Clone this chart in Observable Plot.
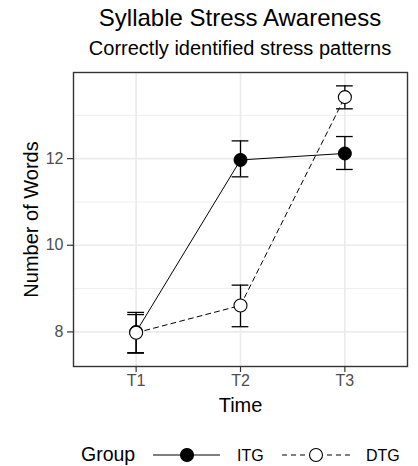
<!DOCTYPE html>
<html>
<head>
<meta charset="utf-8">
<script src="https://cdn.jsdelivr.net/npm/d3@7"></script>
<script src="https://cdn.jsdelivr.net/npm/@observablehq/plot@0.6"></script>
<style>
  html, body { margin: 0; padding: 0; background: white; }
  #wrap { position: relative; width: 418px; height: 466px; font-family: "Liberation Sans", Arial, Helvetica, sans-serif; overflow: hidden; background: white; }
  #title { position: absolute; left: 73px; width: 334px; top: 6px; text-align: center; font-size: 24px; line-height: 24px; color: #000; white-space: nowrap; }
  #subtitle { position: absolute; left: 73px; width: 334px; top: 38px; text-align: center; font-size: 20px; line-height: 20px; color: #000; white-space: nowrap; }
  #chart { position: absolute; left: 0; top: 60px; }
  #legend { position: absolute; left: 0; top: 420px; }
</style>
</head>
<body>
<div id="wrap">
  <div id="title"></div>
  <div id="subtitle"></div>
  <div id="chart"></div>
  <svg id="legend" width="418" height="46"></svg>
</div>
<script>
// ---- data ----
const titleText = "Syllable Stress Awareness";
const subtitleText = "Correctly identified stress patterns";
const xTitle = "Time";
const yTitle = "Number of Words";
const legendTitle = "Group";
const times = ["T1", "T2", "T3"];
const groups = ["ITG", "DTG"];
const itgMean = [8.00, 11.97, 12.12];
const itgLo   = [7.52, 11.58, 11.75];
const itgHi   = [8.45, 12.41, 12.51];
const dtgMean = [7.98, 8.61, 13.42];
const dtgLo   = [7.51, 8.12, 13.15];
const dtgHi   = [8.40, 9.08, 13.68];
const yMajor = [8, 10, 12];
const yMinor = [9, 11, 13];

// ---- build rows ----
const itg = times.map((t, i) => ({group: "ITG", t: i + 1, mean: itgMean[i], lo: itgLo[i], hi: itgHi[i]}));
const dtg = times.map((t, i) => ({group: "DTG", t: i + 1, mean: dtgMean[i], lo: dtgLo[i], hi: dtgHi[i]}));
const rows = itg.concat(dtg);

const yMin = d3.min(rows, d => d.lo), yMax = d3.max(rows, d => d.hi);
const yPad = (yMax - yMin) * 0.05;
const capHalf = 0.08;
const grid = "#ebebeb";

document.getElementById("title").textContent = titleText;
document.getElementById("subtitle").textContent = subtitleText;

const chart = Plot.plot({
  width: 418,
  height: 360,
  marginTop: 12,
  marginRight: 11,
  marginBottom: 54,
  marginLeft: 73,
  style: {fontFamily: '"Liberation Sans", Arial, Helvetica, sans-serif', fontSize: "16px", background: "white", overflow: "visible"},
  x: {type: "linear", domain: [0.4, times.length + 0.6]},
  y: {domain: [yMin - yPad, yMax + yPad]},
  marks: [
    Plot.gridY(yMinor, {stroke: grid, strokeOpacity: 1, strokeWidth: 0.9}),
    Plot.gridY(yMajor, {stroke: grid, strokeOpacity: 1, strokeWidth: 1.7}),
    Plot.gridX([1, 2, 3], {stroke: grid, strokeOpacity: 1, strokeWidth: 1.7}),
    Plot.axisX({ticks: [1, 2, 3], tickFormat: d => times[d - 1], tickSize: 6, tickPadding: 2, label: null, stroke: "#333", fill: "#4d4d4d", strokeWidth: 1.2}),
    Plot.axisY({ticks: yMajor, tickFormat: d => String(d), tickSize: 6, tickPadding: 4, label: null, stroke: "#333", fill: "#4d4d4d", strokeWidth: 1.2}),
    Plot.line(itg, {x: "t", y: "mean", stroke: "black", strokeWidth: 1}),
    Plot.line(dtg, {x: "t", y: "mean", stroke: "black", strokeWidth: 1, strokeDasharray: "5,4"}),
    Plot.ruleX(rows, {x: "t", y1: "lo", y2: "hi", stroke: "black", strokeWidth: 1.3}),
    Plot.ruleY(rows, {y: "hi", x1: d => d.t - capHalf, x2: d => d.t + capHalf, stroke: "black", strokeWidth: 1.3}),
    Plot.ruleY(rows, {y: "lo", x1: d => d.t - capHalf, x2: d => d.t + capHalf, stroke: "black", strokeWidth: 1.3}),
    Plot.dot(itg, {x: "t", y: "mean", r: 6.5, fill: "black", stroke: "black", strokeWidth: 1}),
    Plot.dot(dtg, {x: "t", y: "mean", r: 6.5, fill: "white", stroke: "black", strokeWidth: 1.1}),
    Plot.frame({stroke: "#333", strokeWidth: 1.4}),
    Plot.text([xTitle], {text: d => d, frameAnchor: "bottom", lineAnchor: "top", dy: 31, fontSize: 20, fill: "black"}),
    Plot.text([yTitle], {text: d => d, frameAnchor: "left", rotate: -90, textAnchor: "middle", lineAnchor: "middle", dx: -42, fontSize: 20, fill: "black"})
  ]
});
document.getElementById("chart").appendChild(chart);

// ---- legend ----
const NS = "http://www.w3.org/2000/svg";
const leg = document.getElementById("legend");
function el(tag, attrs, txt) {
  const e = document.createElementNS(NS, tag);
  for (const k in attrs) e.setAttribute(k, attrs[k]);
  if (txt != null) e.textContent = txt;
  leg.appendChild(e);
  return e;
}
const ff = '"Liberation Sans", Arial, Helvetica, sans-serif';
el("text", {x: 81, y: 41, "font-family": ff, "font-size": 19.5, fill: "black"}, legendTitle);
const keys = [
  {x1: 153, x2: 220, cx: 187, tx: 237, fill: "black", dash: null},
  {x1: 282, x2: 350, cx: 316, tx: 366, fill: "white", dash: "5,4"}
];
groups.forEach((g, i) => {
  const k = keys[i];
  const ln = el("line", {x1: k.x1, x2: k.x2, y1: 35, y2: 35, stroke: "black", "stroke-width": 1.1});
  if (k.dash) ln.setAttribute("stroke-dasharray", k.dash);
  el("circle", {cx: k.cx, cy: 35, r: 6.5, fill: k.fill, stroke: "black", "stroke-width": 1.1});
  el("text", {x: k.tx, y: 41, "font-family": ff, "font-size": 16, fill: "black"}, g);
});
</script>
</body>
</html>
